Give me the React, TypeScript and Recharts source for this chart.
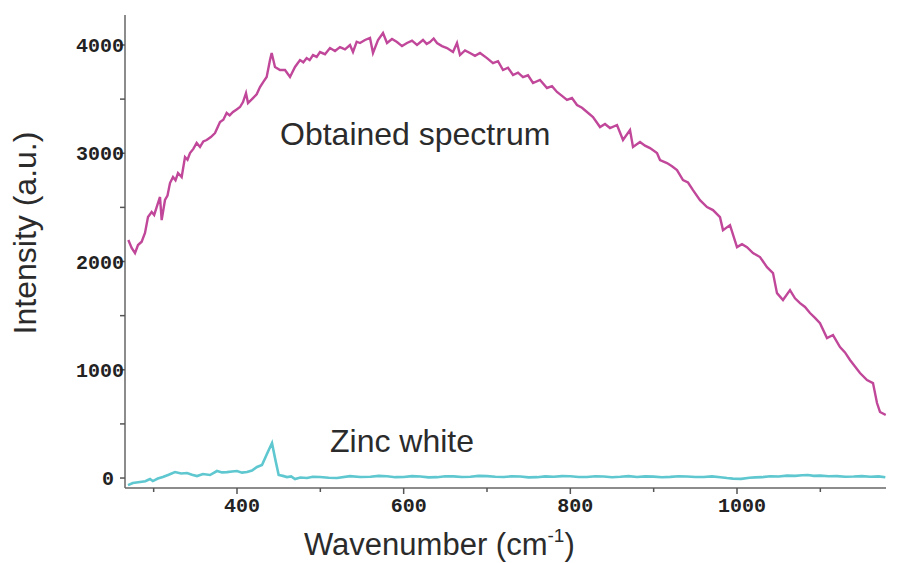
import React from 'react';
import { LineChart, Line, XAxis, YAxis } from 'recharts';

// Obtained spectrum (magenta)
const obtainedWavenumber = [
  269.6, 273.6, 277.6, 281.2, 285.6, 289.6, 293.2, 297.6, 300.6, 303.6, 307.6, 309.6, 313.6, 316.6, 319.6, 323.2, 326.2, 329.2,
  333.6, 337.6, 340.6, 343.6, 347.6, 351.6, 355.6, 359.6, 363.6, 368.6, 373.6, 379.6, 383.6, 387.6, 391.2, 395.2, 399.6, 403.6, 407.2, 410.8, 413.2, 419.2,
  423.6, 427.6, 431.6, 435.6, 439.6, 441.6, 445.6, 451.6, 457.6, 463.6, 469.6, 475.6, 479.6, 483.6, 487.2, 491.2, 495.6, 499.6, 505.6, 511.6, 517.6, 523.6,
  529.6, 535.6, 539.2, 543.6, 547.6, 553.6, 559.6, 563.2, 569.2, 575.2, 580, 586, 592, 598, 604, 610, 616, 623.2, 627.6, 631.6, 636, 640,
  646, 652, 659.2, 664, 667.6, 673.6, 679.6, 685.6, 691.6, 700, 707.2, 713.2, 719.2, 725.2, 731.2, 737.2, 743.2, 749.2, 755.2, 763.6, 772, 778, 784,
  790, 796, 802, 808, 814, 820, 827.2, 835.6, 841.6, 847.6, 856, 863.2, 871.6, 875.2, 883.6, 889.6, 895.6, 904, 907.6, 916,
  922, 928, 935.2, 941.2, 947.2, 955.6, 964, 971.2, 979.6, 983.2, 991.6, 1000, 1006, 1012, 1019.2, 1027.6, 1036, 1043.2,
  1048, 1055.2, 1063.6, 1069.6, 1075.6, 1081.6, 1087.6, 1093.6, 1099.6, 1108, 1115.2, 1123.6, 1129.6, 1135.6, 1141.6, 1147.6, 1156, 1163.2, 1168, 1171.6,
  1178.5,
];
const obtainedIntensity = [
  2199, 2125, 2078, 2152, 2183, 2263, 2411, 2457, 2430, 2503, 2596, 2383, 2568, 2610, 2725, 2780, 2750, 2817,
  2780, 2965, 2940, 3002, 3040, 3095, 3058, 3110, 3122, 3150, 3187, 3289, 3310, 3372, 3350, 3381, 3405, 3427, 3473, 3556, 3464, 3510,
  3545, 3612, 3660, 3704, 3861, 3926, 3797, 3769, 3769, 3704, 3797, 3861, 3840, 3879, 3860, 3907, 3890, 3935, 3915, 3972, 3945, 3981,
  3960, 4000, 3935, 4030, 4018, 4046, 4065, 3926, 4046, 4111, 4018, 4055, 4027, 3990, 4018, 4040, 4000, 4046, 4010, 4027, 4060, 4018,
  3990, 3972, 3935, 4018, 3907, 3950, 3926, 3900, 3926, 3879, 3833, 3850, 3769, 3790, 3723, 3745, 3704, 3720, 3649, 3677, 3603, 3620, 3566,
  3530, 3492, 3510, 3446, 3420, 3381, 3335, 3242, 3270, 3233, 3261, 3122, 3214, 3058, 3104, 3070, 3048, 3002, 2937, 2909,
  2880, 2844, 2752, 2730, 2659, 2567, 2503, 2475, 2410, 2290, 2336, 2133, 2160, 2133, 2078, 2041, 1948, 1893,
  1708, 1644, 1736, 1660, 1616, 1580, 1524, 1480, 1431, 1293, 1321, 1210, 1160, 1090, 1030, 970, 905, 877, 693, 610,
  582,
];

// Zinc white reference (cyan)
const zincWavenumber = [
  269.2, 275, 283.6, 290, 295.6, 299, 305, 311, 318, 325.6, 333, 340, 346, 352, 359.2, 367.6, 376, 382, 388, 394, 400, 406, 412,
  418, 424, 430, 437, 442, 445.6, 450, 455, 460, 465, 469.6, 476, 484, 491, 499.6, 510, 520, 535.6, 548, 560, 570, 580,
  590, 600, 610, 620, 630, 640, 650, 660, 670, 680, 690, 700, 710, 720, 730, 740, 750, 760, 770, 780, 790, 800, 810, 820, 830, 840, 850, 860, 870, 880,
  890, 900, 910, 920, 930, 940, 950, 960, 970, 980, 988, 995, 1005, 1015, 1022, 1030, 1040, 1050, 1060, 1070, 1078, 1085, 1092, 1100, 1110, 1120, 1130, 1140,
  1150, 1160, 1170, 1178,
];
const zincIntensity = [
  -65, -46, -37, -30, -9, -28, -5, 9, 30, 55, 42, 46, 30, 18, 37, 28, 65, 52, 55, 60, 65, 50, 55,
  70, 102, 120, 240, 323, 185, 28, 20, 9, 15, -9, 5, 0, 12, 9, 2, 0, 18, 9, 12, 20, 16,
  8, 10, 18, 14, 6, 8, 16, 15, 9, 12, 20, 18, 12, 10, 16, 14, 6, 8, 15, 12, 18, 16, 9, 10, 17, 14, 8, 12, 18, 9,
  15, 13, 8, 11, 17, 14, 9, 10, 15, 8, 0, -5, -8, 2, 6, 8, 16, 14, 22, 20, 26, 28, 20, 22, 16, 18, 12, 14,
  18, 12, 15, 8,
];

const xTicks = [300, 400, 500, 600, 700, 800, 900, 1000, 1100];
const xLabelTicks = [400, 600, 800, 1000];
const yTicks = [0, 500, 1000, 1500, 2000, 2500, 3000, 3500, 4000];
const yLabelTicks = [0, 1000, 2000, 3000, 4000];

const obtainedData = obtainedWavenumber.map((w, i) => ({ w, v: obtainedIntensity[i] }));
const zincData = zincWavenumber.map((w, i) => ({ w, v: zincIntensity[i] }));

const TICK_FONT = '"Liberation Mono", "DejaVu Sans Mono", monospace';
const LABEL_FONT = '"Liberation Sans", Arial, sans-serif';

const XTick = (props: any) => {
  const { x, y, payload } = props;
  const v = payload.value;
  const major = xLabelTicks.includes(v);
  return (
    <g>
      <line x1={x} x2={x} y1={y} y2={y + (major ? 6 : 4)} stroke="#555" strokeWidth={1.5} />
      {major && (
        <text x={x + 5} y={y + 24} textAnchor="middle" fontFamily={TICK_FONT} fontWeight="bold" fontSize={20} fill="#222">
          {v}
        </text>
      )}
    </g>
  );
};

const YTick = (props: any) => {
  const { x, y, payload } = props;
  const v = payload.value;
  const major = yLabelTicks.includes(v);
  return (
    <g>
      <line x1={x - 5} x2={x} y1={y} y2={y} stroke="#555" strokeWidth={1.5} />
      {major && (
        <text x={v === 0 ? x - 11 : x - 1} y={y + 7} textAnchor="end" fontFamily={TICK_FONT} fontWeight="bold" fontSize={20} fill="#222">
          {v}
        </text>
      )}
    </g>
  );
};

export default function App() {
  return (
    <div style={{ position: 'absolute', left: 0, top: 0, width: 901, height: 563, background: '#fff' }}>
      <LineChart width={901} height={563} margin={{ top: 15, right: 15, bottom: 0, left: 0 }}>
        <XAxis
          type="number"
          dataKey="w"
          domain={[265.6, 1178.8]}
          ticks={xTicks}
          interval={0}
          allowDataOverflow
          height={75}
          tickLine={false}
          tickSize={0}
          tickMargin={0}
          tick={<XTick />}
          axisLine={{ stroke: '#666', strokeWidth: 1.5 }}
        />
        <YAxis
          type="number"
          dataKey="v"
          domain={[-92, 4277]}
          ticks={yTicks}
          interval={0}
          allowDataOverflow
          width={125}
          tickLine={false}
          tickSize={0}
          tickMargin={0}
          tick={<YTick />}
          axisLine={{ stroke: '#666', strokeWidth: 1.5 }}
        />
        <Line data={zincData} dataKey="v" stroke="#5ec7cf" strokeWidth={2.6} dot={false} isAnimationActive={false} />
        <Line data={obtainedData} dataKey="v" stroke="#c04799" strokeWidth={2.4} dot={false} isAnimationActive={false} />
      </LineChart>
      <svg width={901} height={563} style={{ position: 'absolute', left: 0, top: 0, pointerEvents: 'none' }}>
        <text x={280} y={145} fontFamily={LABEL_FONT} fontSize={32} fill="#2b2b2b">Obtained spectrum</text>
        <text x={330} y={452} fontFamily={LABEL_FONT} fontSize={32} fill="#2b2b2b">Zinc white</text>
        <text x={304} y={555} fontFamily={LABEL_FONT} fontSize={31} fill="#2b2b2b">
          Wavenumber (cm<tspan fontSize={19} dy={-13}>-1</tspan><tspan dy={13}>)</tspan>
        </text>
        <text x={36} y={233} transform="rotate(-90 36 233)" textAnchor="middle" fontFamily={LABEL_FONT} fontSize={32} fill="#2b2b2b">
          Intensity (a.u.)
        </text>
      </svg>
    </div>
  );
}
